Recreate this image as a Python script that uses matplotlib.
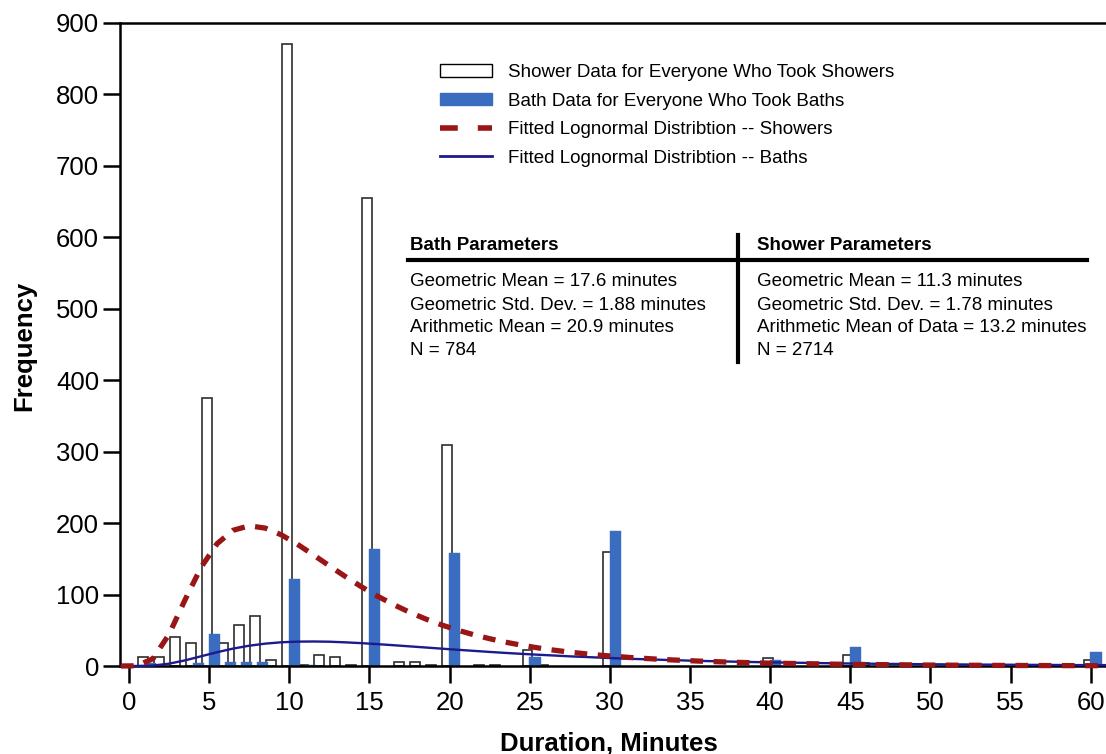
import matplotlib
matplotlib.use("Agg")
import matplotlib.pyplot as plt
from matplotlib.patches import Patch
from matplotlib.lines import Line2D

plt.rcParams['font.family'] = ['Liberation Sans', 'DejaVu Sans']

# ---- data ----
shower_minutes = [1, 2, 3, 4, 5, 6, 7, 8, 9, 10, 11, 12, 13, 14, 15, 17, 18, 19, 20,
                  22, 23, 25, 26, 30, 40, 45, 46, 60]
shower_counts = [13, 12, 41, 32, 375, 32, 57, 70, 8, 870, 1, 15, 13, 1, 655, 6, 5, 2, 310,
                 1, 1, 23, 1, 160, 11, 15, 4, 9]

bath_minutes = [1, 4, 5, 6, 7, 8, 10, 11, 15, 20, 25, 30, 40, 45, 60]
bath_counts = [4, 4, 45, 6, 5, 5, 122, 1, 164, 158, 13, 189, 8, 26, 20]

curve_x = [-0.5, 0.5, 1.5, 2.5, 3.5, 4.5, 5.5, 6.5, 7.5, 8.5, 9.5, 10.5, 11.5, 12.5, 13.5,
           14.5, 15.5, 16.5, 17.5, 18.5, 19.5, 20.5, 21.5, 22.5, 23.5, 24.5, 25.5, 26.5,
           27.5, 28.5, 29.5, 31.5, 33.5, 35.5, 37.5, 39.5, 44.5, 49.5, 54.5, 59.5, 60.9]
shower_fit = [0, 0.3, 10.3, 44.4, 92.7, 138.2, 171.3, 190.0, 196.2, 193.0, 183.6, 170.5,
              155.6, 140.2, 125.2, 110.9, 97.8, 86.0, 75.3, 65.9, 57.5, 50.2, 43.8, 38.2,
              33.3, 29.1, 25.4, 22.2, 19.4, 17.0, 14.9, 11.5, 8.9, 6.9, 5.4, 4.2, 2.4,
              1.35, 0.79, 0.47, 0.43]
bath_fit = [0, 0.02, 0.66, 3.25, 7.9, 13.6, 19.3, 24.4, 28.4, 31.3, 33.2, 34.1, 34.3, 34.0,
            33.1, 32.0, 30.6, 29.1, 27.5, 25.9, 24.3, 22.7, 21.2, 19.7, 18.3, 17.0, 15.8,
            14.7, 13.5, 12.6, 11.6, 9.9, 8.5, 7.2, 6.2, 5.3, 3.6, 2.5, 1.8, 1.25, 1.2]

legend_labels = ["Shower Data for Everyone Who Took Showers",
                 "Bath Data for Everyone Who Took Baths",
                 "Fitted Lognormal Distribtion -- Showers",
                 "Fitted Lognormal Distribtion -- Baths"]

bath_params = ["Geometric Mean = 17.6 minutes",
               "Geometric Std. Dev. = 1.88 minutes",
               "Arithmetic Mean = 20.9 minutes",
               "N = 784"]
shower_params = ["Geometric Mean = 11.3 minutes",
                 "Geometric Std. Dev. = 1.78 minutes",
                 "Arithmetic Mean of Data = 13.2 minutes",
                 "N = 2714"]

xticks = list(range(0, 61, 5))
yticks = list(range(0, 901, 100))

# ---- styling ----
W, H = 1106, 754
BLUE = "#3a6cbf"
RED = "#9a1515"
NAVY = "#1c1a8c"

fig = plt.figure(figsize=(W / 100, H / 100), dpi=100)


def fx(px):
    return px / W


def fy(py):
    return 1 - py / H


ax = fig.add_axes([fx(120), fy(666), fx(1106) - fx(120), fy(23) - fy(666)])

ax.bar([m - 0.45 for m in shower_minutes], shower_counts, width=0.62, align='edge',
       facecolor='white', edgecolor='#2e2e2e', linewidth=1.2, zorder=2)
ax.bar([m - 0.02 for m in bath_minutes], bath_counts, width=0.7, align='edge',
       facecolor=BLUE, edgecolor=BLUE, linewidth=0.3, zorder=2.2)

ax.plot(curve_x, shower_fit, color=RED, linewidth=3.8, linestyle=(0, (2.4, 2.0)),
        dash_capstyle='butt', zorder=4, clip_on=False)
ax.plot(curve_x, bath_fit, color=NAVY, linewidth=1.7, zorder=3.5, clip_on=False)

ax.set_xlim(-0.56, 60.95)
ax.set_ylim(0, 900)
ax.set_xticks(xticks)
ax.set_yticks(yticks)
ax.tick_params(axis='both', labelsize=18.5, length=12, width=1.8, color='black',
               direction='out')
ax.tick_params(axis='x', pad=6)
ax.tick_params(axis='y', pad=3)

for side in ['left', 'bottom', 'top']:
    ax.spines[side].set_linewidth(1.8)
    ax.spines[side].set_color('black')
ax.spines['right'].set_visible(False)

ax.set_xlabel("Duration, Minutes", fontsize=18.5, fontweight='bold')
ax.xaxis.set_label_coords((609 - 120) / 986, (666 - 732) / 643)
ax.set_ylabel("Frequency", fontsize=18.5, fontweight='bold')
ax.yaxis.set_label_coords((36 - 120) / 986, (666 - 346) / 643)

# legend
handles = [Patch(facecolor='white', edgecolor='black', linewidth=1.0),
           Patch(facecolor=BLUE, edgecolor=BLUE),
           Line2D([0], [0], color=RED, linewidth=4, linestyle=(0, (3.2, 3.6)),
                  dash_capstyle='butt'),
           Line2D([0], [0], color=NAVY, linewidth=2)]
fig.legend(handles, legend_labels, loc='upper left',
           bbox_to_anchor=(fx(440), fy(64)), frameon=False, fontsize=13.5,
           borderpad=0, borderaxespad=0, handlelength=2.77, handleheight=0.65,
           handletextpad=0.85, labelspacing=0.62)

# parameter table
fig.text(fx(410), fy(246), "Bath Parameters", fontsize=13.5, fontweight='bold',
         ha='left', va='center')
fig.text(fx(757), fy(246), "Shower Parameters", fontsize=13.5, fontweight='bold',
         ha='left', va='center')
row_y = [282, 305, 328, 351]
for yy, t in zip(row_y, bath_params):
    fig.text(fx(410), fy(yy), t, fontsize=13.5, ha='left', va='center')
for yy, t in zip(row_y, shower_params):
    fig.text(fx(757), fy(yy), t, fontsize=13.5, ha='left', va='center')

fig.add_artist(Line2D([fx(408), fx(1087)], [fy(259.5), fy(259.5)], color='black',
                      linewidth=3.0, transform=fig.transFigure))
fig.add_artist(Line2D([fx(738), fx(738)], [fy(235), fy(362)], color='black',
                      linewidth=3.0, transform=fig.transFigure))

fig.savefig("out.png", dpi=100)
